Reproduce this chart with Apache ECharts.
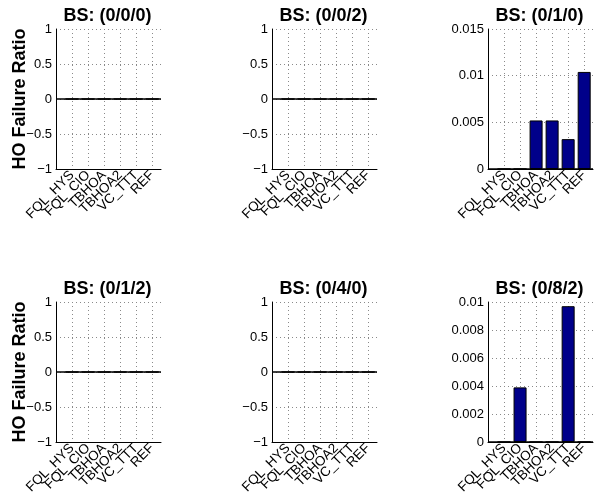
<!DOCTYPE html>
<html>
<head>
<meta charset="utf-8">
<script src="https://cdn.jsdelivr.net/npm/echarts@6/dist/echarts.min.js"></script>
<style>
  html, body { margin: 0; padding: 0; background: #fff; }
  #chart { width: 605px; height: 504px; }
</style>
</head>
<body>
<div id="chart"></div>
<script>
// HO failure ratio per handover scheme, one panel per BS configuration
var schemes = ['FQL_HYS', 'FQL_CIO', 'TBHOA', 'TBHOA2', 'VC_TTT', 'REF'];

var titles = ['BS: (0/0/0)', 'BS: (0/0/2)', 'BS: (0/1/0)',
              'BS: (0/1/2)', 'BS: (0/4/0)', 'BS: (0/8/2)'];

var ratio000 = [0, 0, 0, 0, 0, 0];
var ratio002 = [0, 0, 0, 0, 0, 0];
var ratio010 = [0, 0, 0.0052, 0.0052, 0.0032, 0.0104];
var ratio012 = [0, 0, 0, 0, 0, 0];
var ratio040 = [0, 0, 0, 0, 0, 0];
var ratio082 = [0, 0.0039, 0, 0, 0.0097, 0];

// y-axis range [min, max, step] for each panel
var yRange000 = [-1, 1, 0.5];
var yRange002 = [-1, 1, 0.5];
var yRange010 = [0, 0.015, 0.005];
var yRange012 = [-1, 1, 0.5];
var yRange040 = [-1, 1, 0.5];
var yRange082 = [0, 0.01, 0.002];

var panelValues = [ratio000, ratio002, ratio010, ratio012, ratio040, ratio082];
var panelRanges = [yRange000, yRange002, yRange010, yRange012, yRange040, yRange082];

(function () {
  var FONT = '"Liberation Sans", Arial, Helvetica, sans-serif';
  var colLeft = [56, 272, 488];
  var rowTop = [29, 302];
  var plotW = 105, plotH = 140;
  var xMax = 6.55;

  function dottedLine() {
    return { color: '#8a8a8a', type: [1, 3], width: 1 };
  }

  function fmtNum(v) {
    var s = String(Math.round(v * 1e6) / 1e6);
    return s.charAt(0) === '-' ? '\u2212' + s.slice(1) : s;
  }

  function fmtScheme(v) {
    var k = Math.round(v);
    return (Math.abs(v - k) < 1e-6 && k >= 1 && k <= schemes.length) ? schemes[k - 1] : '';
  }

  var grids = [], xAxes = [], yAxes = [], seriesList = [], titleTexts = [];

  for (var i = 0; i < 6; i++) {
    var r = Math.floor(i / 3), c = i % 3;
    var gx = colLeft[c], gy = rowTop[r];
    grids.push({ left: gx, top: gy, width: plotW, height: plotH });

    // panel heading
    titleTexts.push({
      type: 'text',
      x: gx + plotW / 2 - 1,
      y: gy - 4,
      silent: true,
      style: {
        text: titles[i],
        fill: '#000',
        font: 'bold 18px ' + FONT,
        textAlign: 'center',
        textVerticalAlign: 'bottom'
      }
    });

    xAxes.push({
      type: 'value',
      gridIndex: i,
      min: 0,
      max: xMax,
      interval: 1,
      axisLine: { show: true, onZero: false, lineStyle: { color: '#000', width: 1 } },
      axisTick: { show: false },
      axisLabel: {
        rotate: 45,
        margin: 4,
        fontFamily: FONT,
        fontSize: 13.5,
        color: '#000',
        formatter: fmtScheme
      },
      splitLine: { show: true, showMinLine: false, showMaxLine: false, lineStyle: dottedLine() }
    });

    var rg = panelRanges[i];
    var yAxis = {
      type: 'value',
      gridIndex: i,
      min: rg[0],
      max: rg[1],
      interval: rg[2],
      axisLine: { show: true, onZero: false, lineStyle: { color: '#000', width: 1 } },
      axisTick: { show: false },
      axisLabel: { margin: 4, fontFamily: FONT, fontSize: 13, color: '#000', formatter: fmtNum },
      splitLine: { show: true, showMinLine: false, lineStyle: dottedLine() }
    };
    if (c === 0) {
      yAxis.name = 'HO Failure Ratio';
      yAxis.nameLocation = 'middle';
      yAxis.nameGap = 27;
      yAxis.nameMoveOverlap = false;
      yAxis.nameTextStyle = { fontFamily: FONT, fontSize: 18, fontWeight: 'bold', color: '#000' };
    }
    yAxes.push(yAxis);

    var vals = panelValues[i];
    var pts = [];
    for (var k = 0; k < vals.length; k++) pts.push([k + 1, vals[k]]);
    seriesList.push({
      type: 'bar',
      xAxisIndex: i,
      yAxisIndex: i,
      barWidth: 13,
      data: pts,
      itemStyle: { color: '#00008a', borderColor: '#000', borderWidth: 1 }
    });
    // bar baseline at zero across the panel
    seriesList.push({
      type: 'line',
      xAxisIndex: i,
      yAxisIndex: i,
      symbol: 'none',
      silent: true,
      lineStyle: { color: '#000', width: 1.3 },
      data: [[0, 0], [xMax, 0]]
    });
  }

  var chart = echarts.init(document.getElementById('chart'), null, { renderer: 'canvas' });
  chart.setOption({
    backgroundColor: '#fff',
    animation: false,
    graphic: titleTexts,
    grid: grids,
    xAxis: xAxes,
    yAxis: yAxes,
    series: seriesList
  });
})();
</script>
</body>
</html>
